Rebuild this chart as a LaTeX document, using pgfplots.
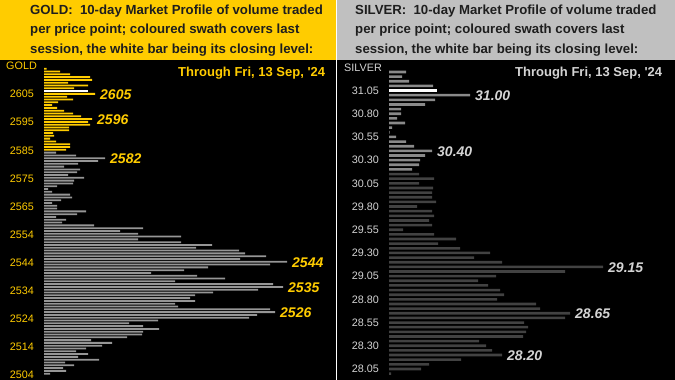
\documentclass[border=0pt]{standalone}
\usepackage{pgfplots}
\pgfplotsset{compat=1.18}
\usepackage{fontspec}
\setmainfont{Liberation Sans}
\definecolor{goldy}{HTML}{FFCC00}
\definecolor{hdrgrey}{HTML}{C0C0C0}
\definecolor{goldgrey}{HTML}{969696}
\definecolor{silvlight}{HTML}{8A8A8A}
\definecolor{silvdark}{HTML}{424242}
\definecolor{silvtext}{HTML}{D4D4D4}
\definecolor{hdrtext}{HTML}{1E1E1E}
\newcommand{\hdrfont}{\fontsize{13.2bp}{15bp}\selectfont\bfseries}
\newcommand{\thrfont}{\fontsize{13bp}{15bp}\selectfont\bfseries}
\newcommand{\annfont}{\fontsize{14bp}{16bp}\selectfont\bfseries\itshape}
\newcommand{\tickfont}{\fontsize{10.8bp}{12bp}\selectfont}
\pgfplotsset{mpstyle/.style={
  anchor=south west, scale only axis, height=320bp,
  axis line style={draw=none}, xtick=\empty, major tick length=0pt,
  yticklabel style={font=\tickfont, anchor=east, inner sep=0pt, xshift=-10bp},
  clip=false}}
\begin{document}
\begin{tikzpicture}
\fill[black] (0bp,0bp) rectangle (675bp,380bp);
\useasboundingbox (0bp,0bp) rectangle (675bp,380bp);
\fill[goldy] (0bp,320bp) rectangle (336bp,380bp);
\fill[hdrgrey] (337.2bp,320bp) rectangle (675bp,380bp);
\fill[white] (336bp,0bp) rectangle (337.2bp,380bp);
% headers
\node[anchor=base west, inner sep=0pt, text=hdrtext, font=\hdrfont] at (30bp,365.3bp) {GOLD:\ \ 10-day Market Profile of volume traded};
\node[anchor=base west, inner sep=0pt, text=hdrtext, font=\hdrfont] at (30bp,346bp) {per price point; coloured swath covers last};
\node[anchor=base west, inner sep=0pt, text=hdrtext, font=\hdrfont] at (30bp,326.7bp) {session, the white bar being its closing level:};
\node[anchor=base west, inner sep=0pt, text=hdrtext, font=\hdrfont] at (355bp,365.3bp) {SILVER:\ \ 10-day Market Profile of volume traded};
\node[anchor=base west, inner sep=0pt, text=hdrtext, font=\hdrfont] at (355bp,346bp) {per price point; coloured swath covers last};
\node[anchor=base west, inner sep=0pt, text=hdrtext, font=\hdrfont] at (355bp,326.7bp) {session, the white bar being its closing level:};
\node[anchor=base west, inner sep=0pt, text=goldy, font=\tickfont] at (6bp,310bp) {GOLD};
\node[anchor=base west, inner sep=0pt, text=silvtext, font=\tickfont] at (344bp,308.3bp) {SILVER};
\node[anchor=base west, inner sep=0pt, text=goldy, font=\thrfont] at (178bp,303.3bp) {Through Fri, 13 Sep, \textquotesingle 24};
\node[anchor=base west, inner sep=0pt, text=silvtext, font=\thrfont] at (515bp,303.3bp) {Through Fri, 13 Sep, \textquotesingle 24};

% GOLD
\begin{axis}[mpstyle, at={(44bp,0bp)}, width=292bp,
  xmin=0, xmax=292, ymin=2502.74, ymax=2617.11,
  ytick={2604.9,2594.86,2584.82,2574.78,2564.74,2554.7,2544.66,2534.62,2524.58,2514.54,2504.5},
  yticklabels={2605,2595,2585,2575,2565,2554,2544,2534,2524,2514,2504},
  yticklabel style={text=goldy}]
\addplot[xbar, bar shift=0pt, bar width=1.8bp, fill=goldy, draw=none] table {
x y
2.7 2614
16 2613
26 2612
46 2611
48 2610
24 2609
44 2608
30 2607
51 2605
23 2604
29 2603
14 2602
8 2601
13 2600
20 2599
29 2598
37 2597
48 2596
44 2595
46 2594
25 2593
25 2592
9 2591
10 2590
6 2589
12 2588
26 2587
26 2586
22 2585
};
\addplot[xbar, bar shift=0pt, bar width=1.8bp, fill=white, draw=none] table {
x y
44 2606
};
\addplot[xbar, bar shift=0pt, bar width=1.8bp, fill=goldgrey, draw=none] table {
x y
12 2584
32 2583
61 2582
54 2581
34 2580
20 2579
36 2578
33 2577
24 2576
40 2575
30 2574
29 2573
13 2572
4 2571
8 2570
26 2569
28 2568
17 2567
8 2566
13 2565
13 2564
42 2563
33 2562
12 2561
22 2560
18 2559
50 2558
99 2557
76 2556
94 2555
137 2554
94 2553
137 2552
168 2551
152 2550
195 2549
201 2548
222 2547
196 2546
243 2545
226 2544
164 2543
140 2542
107 2541
153 2540
181 2539
131 2538
229 2537
239 2536
214 2535
169 2534
151 2533
146 2532
151 2531
131 2530
134 2529
226 2528
231 2527
213 2526
205 2525
114 2524
85 2523
99 2522
115 2521
99 2520
98 2519
83 2518
47 2517
68 2516
58 2515
42 2514
32 2513
44 2512
34 2511
55 2510
21 2509
30 2508
19 2507
22 2506
6 2505
};
\node[anchor=west, inner sep=0pt, font=\annfont, text=goldy] at (axis cs:56,2604.8) {2605};
\node[anchor=west, inner sep=0pt, font=\annfont, text=goldy] at (axis cs:53,2595.9) {2596};
\node[anchor=west, inner sep=0pt, font=\annfont, text=goldy] at (axis cs:66,2582) {2582};
\node[anchor=west, inner sep=0pt, font=\annfont, text=goldy] at (axis cs:248,2544.67) {2544};
\node[anchor=west, inner sep=0pt, font=\annfont, text=goldy] at (axis cs:244,2535.87) {2535};
\node[anchor=west, inner sep=0pt, font=\annfont, text=goldy] at (axis cs:236,2526.8) {2526};
\end{axis}

% SILVER
\begin{axis}[mpstyle, at={(389bp,0bp)}, width=286bp,
  xmin=0, xmax=286, ymin=27.931, ymax=31.379,
  ytick={31.05,30.80,30.55,30.30,30.05,29.80,29.55,29.30,29.05,28.80,28.55,28.30,28.05},
  yticklabels={31.05,30.80,30.55,30.30,30.05,29.80,29.55,29.30,29.05,28.80,28.55,28.30,28.05},
  yticklabel style={text=silvtext}]
\addplot[xbar, bar shift=0pt, bar width=2.6bp, fill=silvlight, draw=none] table {
x y
17 31.25
13 31.20
20 31.15
44 31.10
81 31.00
46 30.95
36 30.90
12 30.85
12 30.80
8 30.75
16 30.70
3 30.65
0.7 30.60
7 30.55
17 30.50
25 30.45
43 30.40
36 30.35
31 30.30
30 30.25
23 30.20
};
\addplot[xbar, bar shift=0pt, bar width=2.6bp, fill=white, draw=none] table {
x y
48 31.05
};
\addplot[xbar, bar shift=0pt, bar width=2.6bp, fill=silvdark, draw=none] table {
x y
30 30.15
45 30.10
30 30.05
44 30.00
43 29.95
43 29.90
47 29.85
28 29.80
43 29.75
45 29.70
40 29.65
43 29.60
14 29.55
45 29.50
67 29.45
49 29.40
71 29.35
101 29.30
85 29.25
113 29.20
214 29.15
176 29.10
107 29.05
89 29.00
99 28.95
111 28.90
115 28.85
108 28.80
147 28.75
151 28.70
181 28.65
176 28.60
135 28.55
139 28.50
137 28.45
134 28.40
90 28.35
97 28.30
103 28.25
113 28.20
72 28.15
40 28.10
32 28.05
2 28.00
};
\node[anchor=west, inner sep=0pt, font=\annfont, text=silvtext] at (axis cs:86,30.991) {31.00};
\node[anchor=west, inner sep=0pt, font=\annfont, text=silvtext] at (axis cs:48,30.388) {30.40};
\node[anchor=west, inner sep=0pt, font=\annfont, text=silvtext] at (axis cs:219,29.145) {29.15};
\node[anchor=west, inner sep=0pt, font=\annfont, text=silvtext] at (axis cs:186,28.642) {28.65};
\node[anchor=west, inner sep=0pt, font=\annfont, text=silvtext] at (axis cs:118,28.19) {28.20};
\end{axis}
\end{tikzpicture}
\end{document}
